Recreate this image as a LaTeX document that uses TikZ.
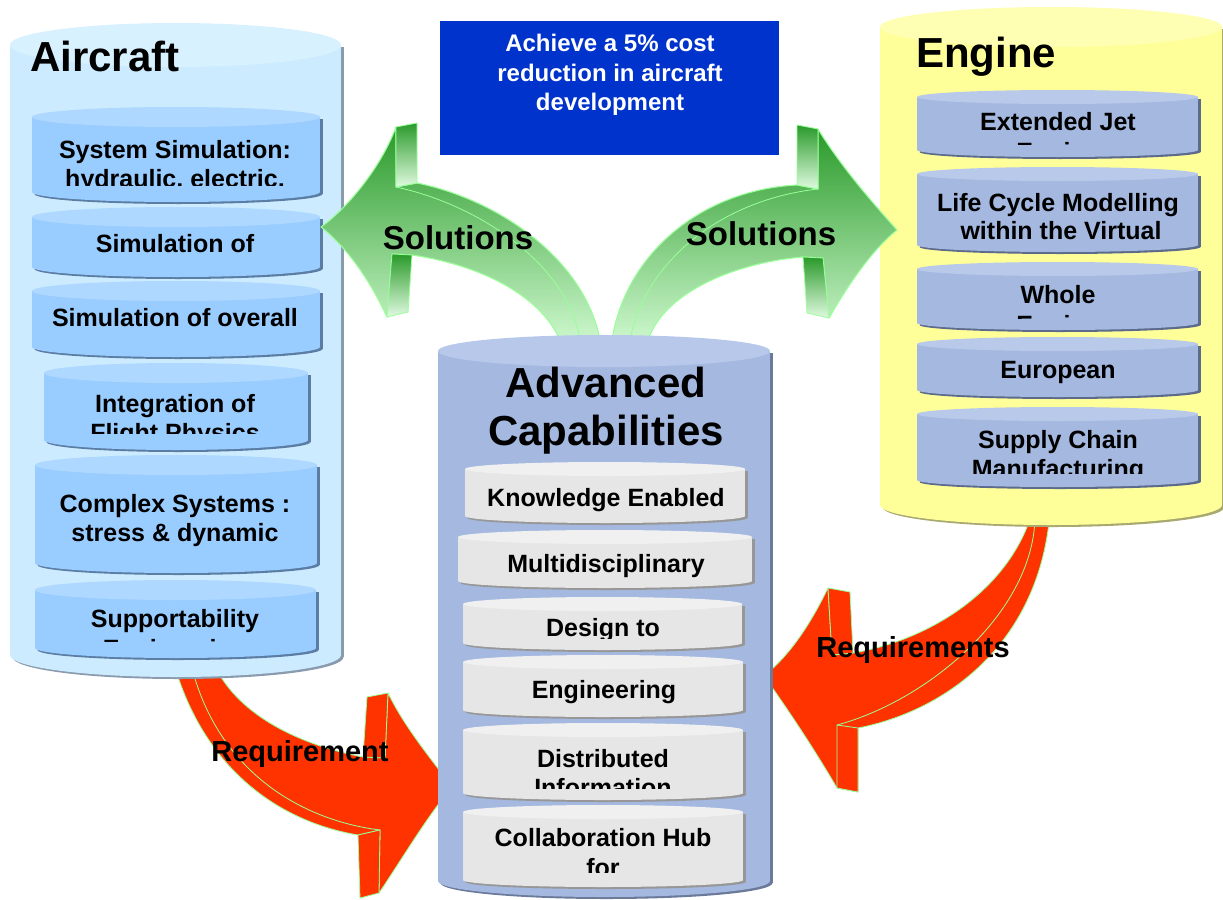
\documentclass[tikz,border=0pt]{standalone}
\usepackage{fontspec}
\setmainfont{Liberation Sans}
\usepackage{tikz}
\usetikzlibrary{arrows.meta}

\definecolor{acbody}{HTML}{CCEBFF}
\definecolor{accap}{HTML}{D8F1FF}
\definecolor{acedge}{HTML}{8A9BAE}
\definecolor{acdisc}{HTML}{99CCFF}
\definecolor{acdisccap}{HTML}{AED8FF}
\definecolor{acdiscedge}{HTML}{5B7DA3}
\definecolor{capbody}{HTML}{A4B8E0}
\definecolor{capcap}{HTML}{B7C8EA}
\definecolor{capedge}{HTML}{6B7A99}
\definecolor{capdisc}{HTML}{E6E6E6}
\definecolor{capdisccap}{HTML}{F0F0F0}
\definecolor{capdiscedge}{HTML}{979797}
\definecolor{enbody}{HTML}{FFFF99}
\definecolor{encap}{HTML}{FFFFB3}
\definecolor{enedge}{HTML}{A8A870}
\definecolor{endisc}{HTML}{A4B8E0}
\definecolor{endisccap}{HTML}{B9C9EA}
\definecolor{endiscedge}{HTML}{5C6B8C}
\definecolor{goalblue}{HTML}{0033CC}
\definecolor{reqred}{HTML}{FF3300}
\definecolor{edgegreen}{HTML}{99FF99}
\definecolor{darkgreen}{HTML}{2A9A2A}
\definecolor{palegreen}{HTML}{CCF7CC}

% drum: x1, x2, top centre y, bottom centre y, y radius, body, cap, edge
\newcommand{\drum}[8]{%
  \pgfmathsetmacro{\drumxc}{(#1+#2)/2}%
  \pgfmathsetmacro{\drumrx}{(#2-#1)/2}%
  \fill[#8] (#1+2.5,#3+2) rectangle (#2+2.5,#4+2);
  \fill[#8] (\drumxc+2.5,#4+2) ellipse [x radius=\drumrx, y radius=#5];
  \fill[#6] (#1,#3) rectangle (#2,#4);
  \fill[#6] (\drumxc,#4) ellipse [x radius=\drumrx, y radius=#5];
  \fill[#7] (\drumxc,#3) ellipse [x radius=\drumrx, y radius=#5];
}

% text line cut off at the bottom: name, x, baseline, clip y, text
\newcommand{\cutline}[5]{%
  \begin{scope}
    \clip (#2-200,#3-40) rectangle (#2+200,#4);
    \node[disctext] (#1) at (#2,#3) {#5};
  \end{scope}
}

\begin{document}
\begin{tikzpicture}[
    x=0.75pt, y=-0.75pt,
    title/.style={font=\bfseries\fontsize{31.5}{36}\selectfont, anchor=base west, inner sep=0pt},
    bigtitle/.style={font=\bfseries\fontsize{31.5}{36}\selectfont, anchor=base, inner sep=0pt},
    disctext/.style={font=\bfseries\fontsize{18.75}{22}\selectfont, anchor=base, inner sep=0pt},
    goaltext/.style={font=\bfseries\fontsize{18}{21}\selectfont, text=white, anchor=base, inner sep=0pt},
    flowlabel/.style={font=\bfseries\fontsize{24.75}{28}\selectfont, anchor=base, inner sep=0pt},
    reqlabel/.style={font=\bfseries\fontsize{21.75}{25}\selectfont, anchor=base, inner sep=0pt},
    redbody/.style={fill=reqred, draw=edgegreen, line width=0.6pt, line join=round},
    greenbody/.style={draw=edgegreen, line width=0.8pt, line join=round, top color=darkgreen, bottom color=palegreen},
    greenstrip/.style={draw=edgegreen, line width=0.6pt, top color=darkgreen, bottom color=palegreen!60!white},
    rim/.style={draw=edgegreen, line width=0.6pt}
]
\useasboundingbox (0,0) rectangle (1223,899);
\fill[white] (0,0) rectangle (1223,899);

% Requirement arrows (behind the drums)
\path[redbody] (173,660) .. controls (200,760) and (270,820) .. (358,835) -- (380,830) -- (379,893)
    .. controls (400,862) and (428,815) .. (452,787)
    .. controls (432,760) and (405,728) .. (388,693) -- (385,758) -- (363,757)
    .. controls (300,745) and (235,715) .. (212,660) -- cycle;
\draw[rim] (190,660) .. controls (215,770) and (300,820) .. (380,830);
\path[redbody] (367,697) -- (388,693) -- (385,758) -- (363,757) -- cycle;
\path[redbody] (358,835) -- (380,830) -- (379,893) -- (360,898) -- cycle;

\path[redbody] (1033,510) .. controls (1010,590) and (930,640) .. (853,653) -- (832,655) -- (828,588)
    .. controls (810,625) and (790,655) .. (764,676)
    .. controls (785,705) and (815,750) .. (837,788) -- (858,792) -- (858,728)
    .. controls (950,710) and (1040,640) .. (1050,512) -- cycle;
\draw[rim] (1035,515) .. controls (1035,610) and (930,700) .. (837,725);
\path[redbody] (828,588) -- (850,592) -- (853,653) -- (832,655) -- cycle;
\path[redbody] (837,725) -- (858,728) -- (858,792) -- (837,788) -- cycle;

\node[reqlabel] (req) at (300,761) {Requirement};
\node[reqlabel] (reqs) at (913,657) {Requirements};

% Aircraft drum
\drum{10}{341}{45}{655}{22}{acbody}{accap}{acedge}
\foreach \xa/\xb/\ya/\yb in {32/320/107/202, 32/320/207/277, 32/320/281/357, 44/308/363/450, 35/317/455/573, 35/316/580/658} {
    \drum{\xa}{\xb}{\ya+10}{\yb-10}{10}{acdisc}{acdisccap}{acdiscedge}
}
\node[title] (aircraft) at (30,72) {Aircraft};
\node[disctext] (ac1) at (175,158) {System Simulation:};
\cutline{ac1b}{175}{187}{185}{hydraulic, electric,}
\node[disctext] (ac2) at (175,252) {Simulation of};
\node[disctext] (ac3) at (175,326) {Simulation of overall};
\node[disctext] (ac4) at (175,412) {Integration of};
\cutline{ac4b}{175}{441}{433}{Flight Physics}
\node[disctext] (ac5) at (175,512) {Complex Systems :};
\node[disctext] (ac5b) at (175,541) {stress \& dynamic};
\node[disctext] (ac6) at (175,627) {Supportability};
\cutline{ac6b}{175}{657}{641}{Engineering}

% Engine drum
\drum{880}{1222}{27}{505}{20}{enbody}{encap}{enedge}
\foreach \ya/\yb in {90/157, 167/252, 262/330, 337/397, 407/487} {
    \drum{917}{1198}{\ya+7}{\yb-7}{7}{endisc}{endisccap}{endiscedge}
}
\node[title] (engine) at (916,68) {Engine};
\node[disctext] (en1) at (1058,130) {Extended Jet};
\cutline{en1b}{1058}{160}{144}{Engine}
\node[disctext] (en2) at (1058,211) {Life Cycle Modelling};
\node[disctext] (en2b) at (1061,239) {within the Virtual};
\node[disctext] (en3) at (1058,303) {Whole};
\cutline{en3b}{1058}{333}{318}{Engine}
\node[disctext] (en4) at (1058,378) {European};
\node[disctext] (en5) at (1058,448) {Supply Chain};
\cutline{en5b}{1058}{477}{473}{Manufacturing}

% Solutions arrows
\path[greenbody] (321,227) .. controls (345,210) and (380,170) .. (396,127) -- (396,187) -- (417,183)
    .. controls (500,200) and (585,260) .. (600,340) -- (560,340)
    .. controls (540,295) and (480,265) .. (412,255) -- (392,254) -- (387,317)
    .. controls (372,285) and (350,250) .. (321,227) -- cycle;
\draw[rim] (396,187) .. controls (480,205) and (568,265) .. (580,340);
\path[greenstrip] (396,127) -- (417,123) -- (417,183) -- (396,187) -- cycle;
\path[greenstrip] (392,254) -- (412,255) -- (408,312) -- (387,317) -- cycle;

\path[greenbody] (897,230) .. controls (870,200) and (840,165) .. (818,129) -- (818,189) -- (797,185)
    .. controls (700,190) and (625,255) .. (612,340) -- (648,340)
    .. controls (665,290) and (740,262) .. (803,257) -- (823,258) -- (829,318)
    .. controls (848,285) and (872,250) .. (897,230) -- cycle;
\draw[rim] (818,189) .. controls (720,200) and (645,262) .. (630,340);
\path[greenstrip] (797,125) -- (818,129) -- (818,189) -- (797,185) -- cycle;
\path[greenstrip] (803,257) -- (823,258) -- (829,318) -- (807,313) -- cycle;

\node[flowlabel] (solleft) at (458,249) {Solutions};
\node[flowlabel] (solright) at (761,245) {Solutions};

% Advanced Capabilities drum
\drum{438}{770}{351}{881}{16}{capbody}{capcap}{capedge}
\foreach \xa/\xb/\ya/\yb in {465/745/462/523, 458/752/530/588, 463/742/597/650, 463/743/655/717, 463/743/723/800, 463/743/805/887} {
    \drum{\xa}{\xb}{\ya+7}{\yb-7}{7}{capdisc}{capdisccap}{capdiscedge}
}
\node[bigtitle] (adv) at (606,397) {Advanced};
\node[bigtitle] (capab) at (606,445) {Capabilities};
\node[disctext] (cap1) at (606,506) {Knowledge Enabled};
\node[disctext] (cap2) at (606,572) {Multidisciplinary};
\cutline{cap3}{603}{636}{638}{Design to}
\node[disctext] (cap4) at (604,698) {Engineering};
\node[disctext] (cap5) at (603,767) {Distributed};
\cutline{cap5b}{603}{796}{788}{Information}
\node[disctext] (cap6) at (603,846) {Collaboration Hub};
\cutline{cap6b}{603}{876}{872}{for}

% Goal
\node[fill=goalblue, minimum width=254.25pt, minimum height=100.5pt, inner sep=0pt] (goal) at (609.5,88) {};
\foreach \y/\txt in {52/Achieve a 5\% cost, 81/reduction in aircraft, 110/development} {
    \node[goaltext] at (610,\y) {\txt};
}

\end{tikzpicture}
\end{document}
